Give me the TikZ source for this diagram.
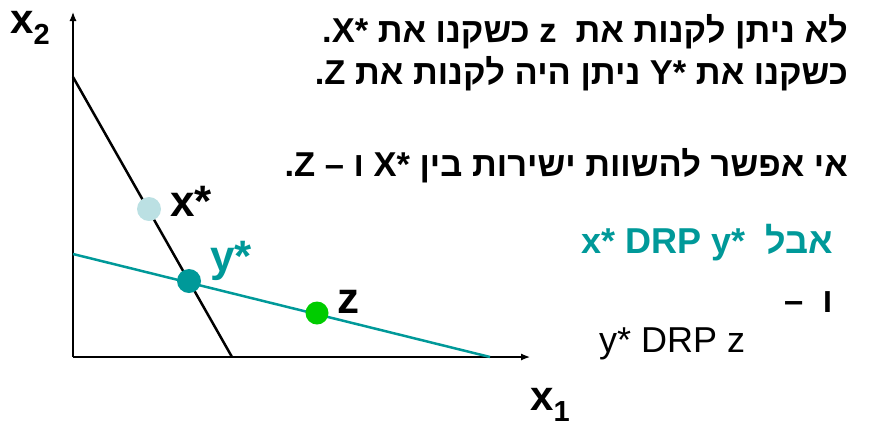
\documentclass[tikz,border=0pt]{standalone}
\usepackage{fontspec}
\setmainfont{Liberation Sans}
\newfontfamily\heb[Script=Hebrew]{Liberation Sans}
\TeXXeTstate=1
\usetikzlibrary{arrows.meta}
\definecolor{tealc}{HTML}{009999}
\definecolor{lightc}{HTML}{BBE0E3}
\definecolor{greenc}{HTML}{00CC00}
\tikzset{
  axis/.style={line width=1.2pt,-{Latex[length=9pt,width=7pt]}},
  budget/.style={line width=2.5pt},
  dot/.style={circle,inner sep=0pt,minimum size=24pt},
  lbl/.style={anchor=base west,font=\fontsize{44}{48}\selectfont\bfseries,inner sep=0pt},
  axlbl/.style={anchor=base west,font=\fontsize{42}{46}\selectfont\bfseries,inner sep=0pt},
  hebline/.style={anchor=base east,inner sep=0pt,font=\heb\fontsize{34.5}{40}\selectfont\bfseries},
}
\begin{document}
\begin{tikzpicture}[x=1pt,y=-1pt]
\useasboundingbox (0,0) rectangle (869,429);
% axes
\coordinate (O) at (73,357);
\coordinate (ytop) at (73,12);
\coordinate (xend) at (530,357);
\draw[axis] (O) -- (ytop);
\draw[axis] (O) -- (xend);
% budget lines
\coordinate (A1) at (73,77);
\coordinate (A2) at (232,357);
\coordinate (B1) at (73,254);
\coordinate (B2) at (490,357);
\draw[budget,black] (A1) -- (A2);
\draw[budget,tealc] (B1) -- (B2);
% points
\node[dot,fill=lightc] (xs) at (149,209) {};
\node[dot,fill=tealc] (ys) at (189,281) {};
\node[dot,fill=greenc,minimum size=23pt] (zp) at (317,313) {};
% point labels
\node[lbl] (xsl) at (170,216) {x*};
\node[lbl,text=tealc] (ysl) at (210,271) {y*};
\node[lbl] (zl) at (337,313) {z};
% axis labels
\node[axlbl] (x2l) at (10,33) {x\raisebox{-0.28em}{\fontsize{29}{32}\selectfont\bfseries 2}};
\node[axlbl] (x1l) at (530,410) {x\raisebox{-0.28em}{\fontsize{29}{32}\selectfont\bfseries 1}};
% Hebrew text
\node[hebline] (t1) at (848,42) {\beginR לא ניתן לקנות את\ \ \beginL z\endL\ כשקנו את \beginL X*\endL.\endR};
\node[hebline] (t2) at (848,84) {\beginR כשקנו את \beginL Y*\endL\ ניתן היה לקנות את \beginL Z\endL.\endR};
\node[hebline] (t3) at (848,176) {\beginR אי אפשר להשוות ישירות בין \beginL X*\endL\ ו – \beginL Z\endL.\endR};
\node[hebline,text=tealc,font=\heb\fontsize{36}{40}\selectfont\bfseries] (t4) at (833,253) {\beginR אבל\ \ \beginL x* DRP y*\endL\endR};
\node[hebline] (t5) at (833,312) {\beginR ו\ \ –\endR};
\node[anchor=base west,inner sep=0pt,font=\fontsize{36}{40}\selectfont] (t6) at (599,352) {y* DRP z};
\end{tikzpicture}
\end{document}
